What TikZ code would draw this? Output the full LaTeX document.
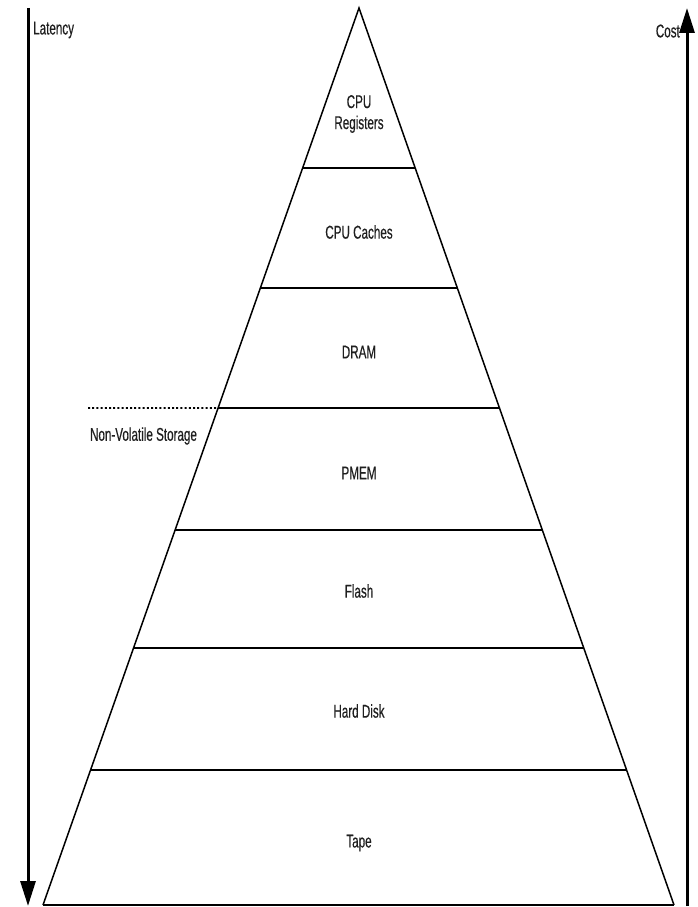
\documentclass[tikz,border=0pt]{standalone}
\usepackage{fontspec}
\setmainfont{Liberation Sans}[FakeStretch=0.63,FakeBold=0.4]
\usetikzlibrary{arrows.meta,calc}

\begin{document}
\begin{tikzpicture}[x=1pt,y=-1pt,
  side/.style={line width=1.5pt,line join=miter},
  tier/.style={line width=2.4pt},
  axis/.style={line width=3pt,-{Triangle[length=25pt,width=15pt]}},
  lbl/.style={font=\fontsize{18.5}{20}\selectfont,text=black!88,inner sep=0pt,align=center},
  sep/.style={line width=1.9pt,dash pattern=on 2pt off 2.2pt}]
  \useasboundingbox (0,0) rectangle (698,907);

  % pyramid outline
  \coordinate (apex) at (359,8);
  \coordinate (bl) at (43,905);
  \coordinate (br) at (674,905);
  \draw[side] (bl) -- (apex) -- (br);
  \draw[tier] (bl) -- (br);

  % tier boundaries, placed by fraction of the height from the apex
  \foreach \n/\y in {1/168,2/288,3/408,4/530,5/648,6/770}{
    \pgfmathsetmacro{\t}{(\y-8)/897}
    \coordinate (l\n) at ($(apex)!\t!(bl)$);
    \coordinate (r\n) at ($(apex)!\t!(br)$);
    \draw[tier] (l\n) -- (r\n);
  }

  % tier labels
  \node[lbl] (reg)   at (359,114) {CPU\\[1pt]Registers};
  \node[lbl] (cache) at (359,232) {CPU Caches};
  \node[lbl] (dram)  at (359,352) {DRAM};
  \node[lbl] (pmem)  at (359,473) {PMEM};
  \node[lbl] (flash) at (359,591) {Flash};
  \node[lbl] (hdd)   at (359,711) {Hard Disk};
  \node[lbl] (tape)  at (359,843) {Tape};

  % volatile / non-volatile boundary
  \coordinate (nvs) at (88,408);
  \draw[sep] (nvs) -- (l3);
  \node[lbl] (nvslbl) at (143.5,436) {Non-Volatile Storage};

  % axes
  \coordinate (lat top) at (28,8);
  \coordinate (lat bot) at (28,906);
  \coordinate (cost bot) at (687,906);
  \coordinate (cost top) at (687,8);
  \draw[axis] (lat top) -- (lat bot);
  \draw[axis] (cost bot) -- (cost top);
  \node[lbl,anchor=west] (latency) at (33,30) {Latency};
  \node[lbl,anchor=east] (cost) at (680,31) {Cost};
\end{tikzpicture}
\end{document}
